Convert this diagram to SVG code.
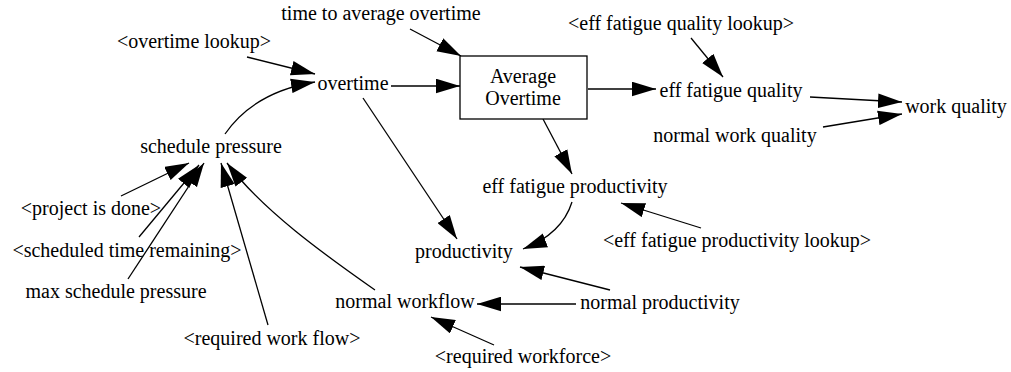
<svg xmlns="http://www.w3.org/2000/svg" width="1011" height="372" viewBox="0 0 1011 372">
  <style>
    text { font-family: 'Liberation Serif', Tinos, 'Times New Roman', serif; font-size: 20px; fill: #000; text-anchor: middle; }
    .link { fill: none; stroke: #000; stroke-width: 1.3; marker-end: url(#head); }
    .stock { fill: #fff; stroke: #000; stroke-width: 1.3; }
  </style>
  <defs>
    <marker id="head" markerUnits="userSpaceOnUse" markerWidth="24" markerHeight="15" refX="23" refY="7" orient="auto" viewBox="0 0 23 14">
      <path d="M0,0 L23,7 L0,14 Z" fill="#000"/>
    </marker>
  </defs>
  <rect width="1011" height="372" fill="#fff"/>

  <g id="connectors">
    <path class="link" d="M247,57 L315,74"/>
    <path class="link" d="M225,134 Q254,92 315,82"/>
    <path class="link" d="M391,86 L460,86"/>
    <path class="link" d="M410,29 L461,56"/>
    <path class="link" d="M588,89 L656,89"/>
    <path class="link" d="M691,38 L723,77"/>
    <path class="link" d="M810,97 L902,102"/>
    <path class="link" d="M823,127 L902,114"/>
    <path class="link" d="M543,119 L572,174"/>
    <path class="link" d="M363,98 L457,239"/>
    <path class="link" d="M572,202 Q562,234 523,249"/>
    <path class="link" d="M701,228 L621,203"/>
    <path class="link" d="M610,290 L520,267"/>
    <path class="link" d="M576,304 L477,304"/>
    <path class="link" d="M494,345 L431,317"/>
    <path class="link" d="M375,290 C325,255 262,210 227,163"/>
    <path class="link" d="M268,325 L221,163"/>
    <path class="link" d="M128,279 L204,163"/>
    <path class="link" d="M139,237 L199,165"/>
    <path class="link" d="M121,196 L189,163"/>
  </g>

  <g id="time-to-average-overtime"><text x="381" y="20">time to average overtime</text></g>
  <g id="overtime-lookup"><text x="194" y="48">&lt;overtime lookup&gt;</text></g>
  <g id="overtime"><text x="353" y="90">overtime</text></g>
  <g id="average-overtime">
    <rect class="stock" x="460" y="56" width="127" height="63"/>
    <text x="523" y="83">Average</text>
    <text x="523" y="105">Overtime</text>
  </g>
  <g id="eff-fatigue-quality-lookup"><text x="681" y="30">&lt;eff fatigue quality lookup&gt;</text></g>
  <g id="eff-fatigue-quality"><text x="731" y="97">eff fatigue quality</text></g>
  <g id="work-quality"><text x="956" y="113">work quality</text></g>
  <g id="normal-work-quality"><text x="735" y="142">normal work quality</text></g>
  <g id="schedule-pressure"><text x="211" y="153">schedule pressure</text></g>
  <g id="project-is-done"><text x="91" y="215">&lt;project is done&gt;</text></g>
  <g id="scheduled-time-remaining"><text x="127" y="257">&lt;scheduled time remaining&gt;</text></g>
  <g id="max-schedule-pressure"><text x="116" y="298">max schedule pressure</text></g>
  <g id="required-work-flow"><text x="272" y="345">&lt;required work flow&gt;</text></g>
  <g id="normal-workflow"><text x="405" y="308">normal workflow</text></g>
  <g id="productivity"><text x="464" y="258">productivity</text></g>
  <g id="eff-fatigue-productivity"><text x="575" y="193">eff fatigue productivity</text></g>
  <g id="eff-fatigue-productivity-lookup"><text x="737" y="247">&lt;eff fatigue productivity lookup&gt;</text></g>
  <g id="normal-productivity"><text x="660" y="309">normal productivity</text></g>
  <g id="required-workforce"><text x="523" y="363">&lt;required workforce&gt;</text></g>
</svg>
